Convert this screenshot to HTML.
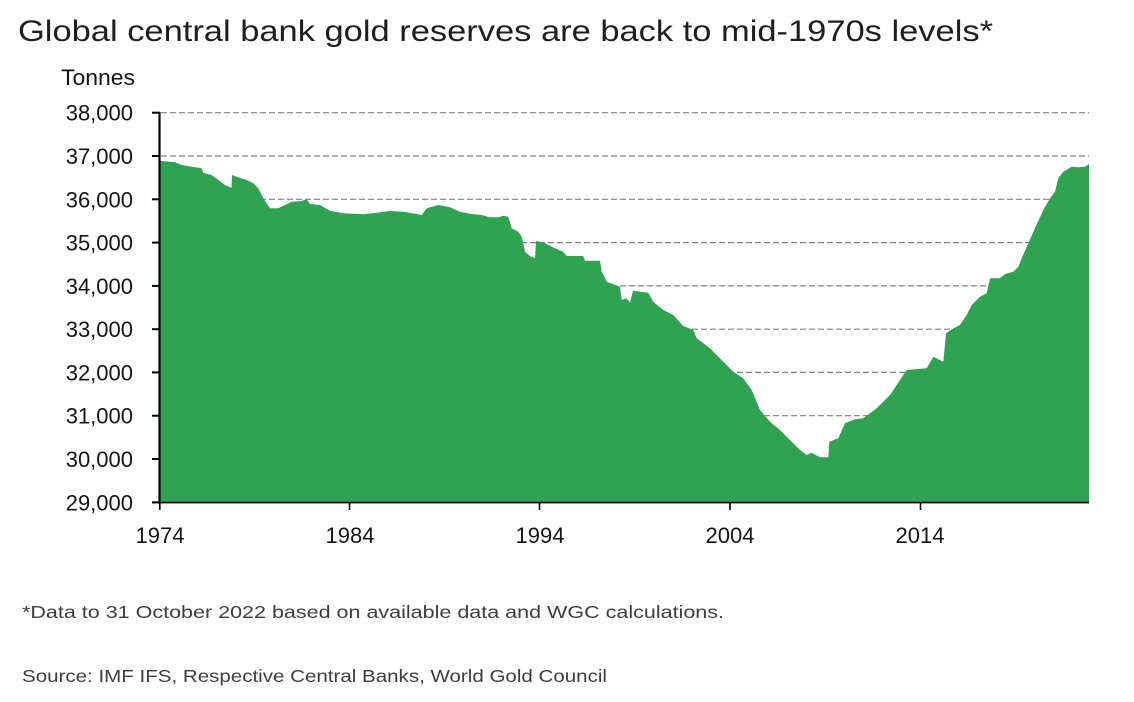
<!DOCTYPE html>
<html>
<head>
<meta charset="utf-8">
<style>
  html,body{margin:0;padding:0;background:#ffffff;}
  body{width:1134px;height:702px;overflow:hidden;}
  svg{display:block;}
  .ax{font-family:"Liberation Sans",Arial,sans-serif;font-size:22px;fill:#141414;}
</style>
</head>
<body>
<svg width="1134" height="702" viewBox="0 0 1134 702" xmlns="http://www.w3.org/2000/svg">
  <rect x="0" y="0" width="1134" height="702" fill="#ffffff"/>

  <!-- Title -->
  <text x="18" y="41" font-family="Liberation Sans, Arial, sans-serif" font-size="30" fill="#1e1e1e" textLength="975" lengthAdjust="spacingAndGlyphs">Global central bank gold reserves are back to mid-1970s levels*</text>

  <!-- Gridlines -->
  <g stroke="#808080" stroke-width="1.2" stroke-dasharray="6,3" fill="none">
    <line x1="161" y1="112.7" x2="1089" y2="112.7"/>
    <line x1="161" y1="156.0" x2="1089" y2="156.0"/>
    <line x1="161" y1="199.3" x2="1089" y2="199.3"/>
    <line x1="161" y1="242.6" x2="1089" y2="242.6"/>
    <line x1="161" y1="285.9" x2="1089" y2="285.9"/>
    <line x1="161" y1="329.2" x2="1089" y2="329.2"/>
    <line x1="161" y1="372.4" x2="1089" y2="372.4"/>
    <line x1="161" y1="415.7" x2="1089" y2="415.7"/>
    <line x1="161" y1="459.0" x2="1089" y2="459.0"/>
  </g>

  <!-- Area -->
  <path fill="#2fa352" d="M160.5,502.3 L160.5,161
    L161.7,161 L175,162.3 L181.7,165 L191.7,166.7 L201.7,168.3 L203.3,172.7 L211.7,175 L218.3,180
    L225,185 L230,187.3 L231.5,187.5 L232,175 L236.7,176.7 L246.7,180 L253.3,183.3 L258.3,188.3
    L263.3,198.3 L270,208.3 L278.3,208.3 L285,205 L291.7,201.7 L301.7,201 L306.7,199.3 L310,204
    L320,205 L330,210.7 L343.3,213.3 L363.3,214.3 L376.7,212.7 L390,211 L403.3,211.7 L416.7,214
    L421.7,215 L426.7,208.3 L438.3,205 L450,207.3 L460,211.7 L471.7,214 L481.7,215 L490,217.3
    L498.3,217.3 L503.3,215.7 L508.3,216.7 L511.7,228.3 L518.3,231.7 L521.7,236.7 L525,251.7
    L530,256 L535,258.3 L536,240.7 L545,243.3 L555,248.3 L563.3,251.7 L566.7,256 L583.3,256
    L585,260.7 L600,260.7 L601.7,271.7 L606.7,281.7 L620,286.7 L621.7,300 L626.7,298.3 L630,302.7
    L633,290.7 L648.3,292.7 L653.3,301.7 L663.3,310 L673.3,315 L683.3,326 L693.3,330 L696.7,338.3
    L710,348.3 L723.3,361.7 L733.3,371.7 L743.3,378.3 L751.7,390 L760,410 L770,421.7 L780,430
    L790,440 L800,450 L806.7,455 L811.7,452.7 L820,457.3 L828.3,457.3 L829.3,441.7 L838.3,438.3
    L845,423.3 L855,419.3 L863.3,418.3 L876.7,408.3 L890,395 L900,380 L906.7,370 L926.7,368.3
    L933.3,356.7 L943.3,361.7 L946,333.3 L953.3,328.3 L960,325 L966.7,315 L971.7,305 L980,296.7
    L986.7,293.3 L990,278.3 L1000,278.3 L1005,274 L1013.3,271.7 L1018.3,266.7 L1021.7,258.3
    L1028.3,243.3 L1035,228.3 L1043.3,210 L1050,198.3 L1055,191.7 L1058.3,178.3 L1063.3,171.7
    L1071.7,166.7 L1078.3,167.3 L1085,166.7 L1089,164 L1089,502.3 Z"/>

  <!-- Axes -->
  <g stroke="#000000" fill="none">
    <line x1="159.5" y1="112" x2="159.5" y2="503.5" stroke-width="2.2"/>
    <line x1="152" y1="502.6" x2="1089" y2="502.6" stroke-width="1.6"/>
    <g stroke-width="2">
      <line x1="152" y1="112.7" x2="160" y2="112.7"/>
      <line x1="152" y1="156.0" x2="160" y2="156.0"/>
      <line x1="152" y1="199.3" x2="160" y2="199.3"/>
      <line x1="152" y1="242.6" x2="160" y2="242.6"/>
      <line x1="152" y1="285.9" x2="160" y2="285.9"/>
      <line x1="152" y1="329.2" x2="160" y2="329.2"/>
      <line x1="152" y1="372.4" x2="160" y2="372.4"/>
      <line x1="152" y1="415.7" x2="160" y2="415.7"/>
      <line x1="152" y1="459.0" x2="160" y2="459.0"/>
      <line x1="152" y1="502.3" x2="160" y2="502.3"/>
    </g>
    <g stroke-width="1.6">
      <line x1="159.8" y1="502" x2="159.8" y2="510"/>
      <line x1="349.5" y1="502" x2="349.5" y2="510"/>
      <line x1="539.5" y1="502" x2="539.5" y2="510"/>
      <line x1="730" y1="502" x2="730" y2="510"/>
      <line x1="920.5" y1="502" x2="920.5" y2="510"/>
    </g>
  </g>

  <!-- Axis labels -->
  <text class="ax" x="61" y="85" textLength="74" lengthAdjust="spacingAndGlyphs">Tonnes</text>
  <g class="ax" text-anchor="end">
    <text x="133" y="120.7">38,000</text>
    <text x="133" y="164.0">37,000</text>
    <text x="133" y="207.3">36,000</text>
    <text x="133" y="250.6">35,000</text>
    <text x="133" y="293.9">34,000</text>
    <text x="133" y="337.2">33,000</text>
    <text x="133" y="380.4">32,000</text>
    <text x="133" y="423.7">31,000</text>
    <text x="133" y="467.0">30,000</text>
    <text x="133" y="510.3">29,000</text>
  </g>
  <g class="ax" text-anchor="middle">
    <text x="160" y="543">1974</text>
    <text x="350" y="543">1984</text>
    <text x="540" y="543">1994</text>
    <text x="730" y="543">2004</text>
    <text x="920" y="543">2014</text>
  </g>

  <!-- Footnotes -->
  <text x="22" y="618" font-family="Liberation Sans, Arial, sans-serif" font-size="17.5" fill="#3d3d3d" textLength="702" lengthAdjust="spacingAndGlyphs">*Data to 31 October 2022 based on available data and WGC calculations.</text>
  <text x="22" y="682" font-family="Liberation Sans, Arial, sans-serif" font-size="17.5" fill="#3d3d3d" textLength="585" lengthAdjust="spacingAndGlyphs">Source: IMF IFS, Respective Central Banks, World Gold Council</text>
</svg>
</body>
</html>
